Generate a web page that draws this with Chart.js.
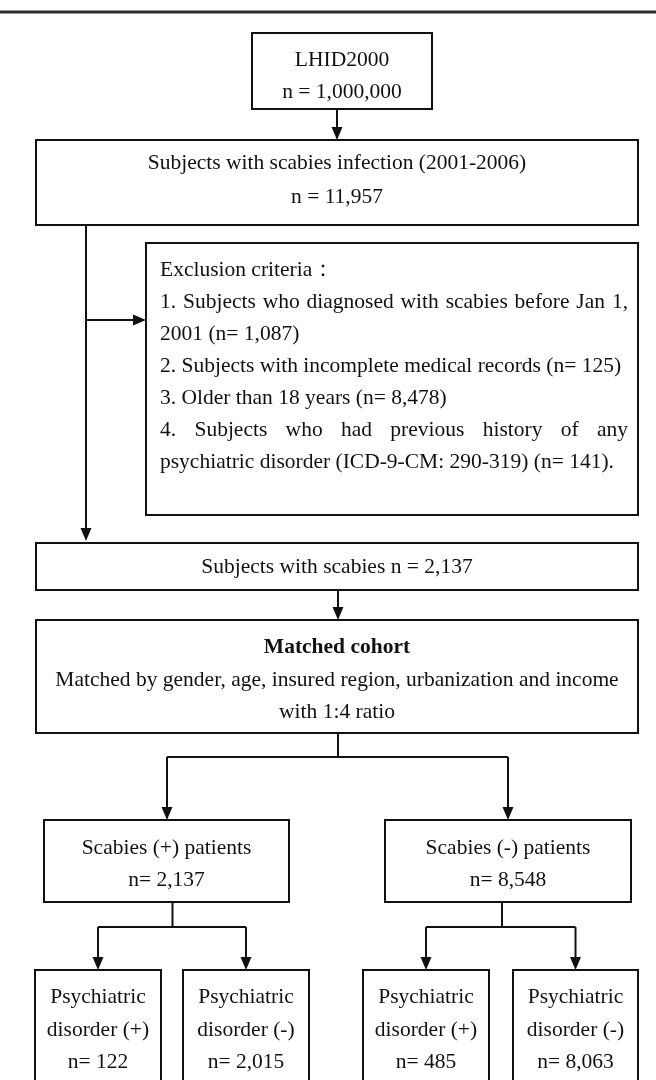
<!DOCTYPE html>
<html>
<head>
<meta charset="utf-8">
<script src="https://cdn.jsdelivr.net/npm/chart.js@4/dist/chart.umd.min.js"></script>
<style>
  html, body { margin: 0; padding: 0; background: #fff; }
  #wrap { width: 656px; height: 1080px; }
</style>
</head>
<body>
<div id="wrap"><canvas id="flow"></canvas></div>
<script>
// values
var stageLabels = ['LHID2000', 'Subjects with scabies infection (2001-2006)', 'Subjects with scabies', 'Scabies (+) patients', 'Scabies (-) patients']
var stageCounts = [1000000, 11957, 2137, 2137, 8548]
var exclusionTitle = 'Exclusion criteria\uFF1A'
var exclusionLabels = [
  'Subjects who diagnosed with scabies before Jan 1, 2001',
  'Subjects with incomplete medical records',
  'Older than 18 years',
  'Subjects who had previous history of any psychiatric disorder (ICD-9-CM: 290-319)'
]
var exclusionCounts = [1087, 125, 8478, 141]
var cohortTitle = 'Matched cohort'
var cohortText = 'Matched by gender, age, insured region, urbanization and income with 1:4 ratio'
var outcomeLabels = ['Psychiatric disorder (+)', 'Psychiatric disorder (-)', 'Psychiatric disorder (+)', 'Psychiatric disorder (-)']
var outcomeCounts = [122, 2015, 485, 8063]

// page layout in figure units (x 0-656, y 0-1080 from top)
var boxes = {
  lhid:    {x0: 252, x1: 432, y0: 33,  y1: 109, rows: [60, 92]},
  infect:  {x0: 36,  x1: 638, y0: 140, y1: 225, rows: [163, 197]},
  excl:    {x0: 146, x1: 638, y0: 243, y1: 515, top: 270, step: 32, left: 160, width: 468},
  scab:    {x0: 36,  x1: 638, y0: 543, y1: 590, rows: [567]},
  cohort:  {x0: 36,  x1: 638, y0: 620, y1: 733, rows: [647, 680, 712]},
  pos:     {x0: 44,  x1: 289, y0: 820, y1: 902, rows: [848, 880]},
  neg:     {x0: 385, x1: 631, y0: 820, y1: 902, rows: [848, 880]}
}
var leafBoxes = [[35, 161], [183, 309], [363, 489], [513, 638]]
var leafTop = 970, leafRows = [997, 1030, 1062]
var FONT = '21.5px "Liberation Serif", "Times New Roman", serif'
var BOLD = 'bold 21.5px "Liberation Serif", "Times New Roman", serif'
var INK = '#111'

function fmt(n) { return n.toLocaleString('en-US') }

function wrap(ctx, text, maxW) {
  var words = text.split(' '), lines = [], cur = ''
  words.forEach(function(w) {
    var test = cur ? cur + ' ' + w : w
    if (cur && ctx.measureText(test).width > maxW) { lines.push(cur); cur = w }
    else cur = test
  })
  if (cur) lines.push(cur)
  return lines
}

var flowPlugin = {
  id: 'flow',
  afterDatasetsDraw: function(chart) {
    var ctx = chart.ctx, xs = chart.scales.x, ys = chart.scales.y
    var px = function(v) { return xs.getPixelForValue(v) }
    var py = function(v) { return ys.getPixelForValue(v) }

    ctx.save()
    ctx.strokeStyle = INK
    ctx.fillStyle = INK
    ctx.lineWidth = 2

    function rect(b) {
      ctx.strokeRect(px(b.x0), py(b.y0), px(b.x1) - px(b.x0), py(b.y1) - py(b.y0))
    }
    function line(x1, y1, x2, y2) {
      ctx.beginPath(); ctx.moveTo(px(x1), py(y1)); ctx.lineTo(px(x2), py(y2)); ctx.stroke()
    }
    function arrow(x1, y1, x2, y2) {
      var ax = px(x2), ay = py(y2)
      var ang = Math.atan2(ay - py(y1), ax - px(x1))
      var len = 13, hw = 5.5
      var bx = ax - len * Math.cos(ang), by = ay - len * Math.sin(ang)
      ctx.beginPath(); ctx.moveTo(px(x1), py(y1)); ctx.lineTo(bx, by); ctx.stroke()
      ctx.beginPath()
      ctx.moveTo(ax, ay)
      ctx.lineTo(bx + hw * Math.sin(ang), by - hw * Math.cos(ang))
      ctx.lineTo(bx - hw * Math.sin(ang), by + hw * Math.cos(ang))
      ctx.closePath(); ctx.fill()
    }
    function centred(texts, b, rows, fonts) {
      ctx.textAlign = 'center'
      ctx.textBaseline = 'middle'
      var cx = px((b.x0 + b.x1) / 2)
      texts.forEach(function(t, i) {
        ctx.font = (fonts && fonts[i]) || FONT
        ctx.fillText(t, cx, py(rows[i]))
      })
    }

    // rule at the top of the page
    ctx.save()
    ctx.lineWidth = 3
    ctx.strokeStyle = '#2b2b2b'
    line(0, 12, 656, 12)
    ctx.restore()

    // main column
    rect(boxes.lhid)
    centred([stageLabels[0], 'n = ' + fmt(stageCounts[0])], boxes.lhid, boxes.lhid.rows)
    arrow(337, boxes.lhid.y1, 337, boxes.infect.y0)

    rect(boxes.infect)
    centred([stageLabels[1], 'n = ' + fmt(stageCounts[1])], boxes.infect, boxes.infect.rows)

    arrow(86, boxes.infect.y1, 86, boxes.scab.y0 - 2)
    arrow(86, 320, boxes.excl.x0, 320)

    // exclusion box, justified paragraphs
    var e = boxes.excl
    rect(e)
    ctx.font = FONT
    ctx.textAlign = 'left'
    ctx.textBaseline = 'middle'
    var rows = [{text: exclusionTitle, just: false}]
    exclusionLabels.forEach(function(lab, i) {
      var para = (i + 1) + '. ' + lab + ' (n= ' + fmt(exclusionCounts[i]) + ')' + (i === exclusionLabels.length - 1 ? '.' : '')
      var ls = wrap(ctx, para, e.width)
      ls.forEach(function(l, j) { rows.push({text: l, just: j < ls.length - 1}) })
    })
    rows.forEach(function(r, i) {
      var y = py(e.top + i * e.step)
      if (!r.just) { ctx.fillText(r.text, px(e.left), y); return }
      var words = r.text.split(' ')
      var total = words.reduce(function(s, w) { return s + ctx.measureText(w).width }, 0)
      var gap = (px(e.left + e.width) - px(e.left) - total) / (words.length - 1)
      var x = px(e.left)
      words.forEach(function(w) { ctx.fillText(w, x, y); x += ctx.measureText(w).width + gap })
    })

    rect(boxes.scab)
    centred([stageLabels[2] + ' n = ' + fmt(stageCounts[2])], boxes.scab, boxes.scab.rows)
    arrow(338, boxes.scab.y1, 338, boxes.cohort.y0)

    rect(boxes.cohort)
    ctx.font = FONT
    var cl = wrap(ctx, cohortText, 580)
    centred([cohortTitle].concat(cl), boxes.cohort, boxes.cohort.rows, [BOLD])

    // split into the two arms
    line(338, boxes.cohort.y1, 338, 757)
    line(167, 757, 508, 757)
    arrow(167, 757, 167, boxes.pos.y0)
    arrow(508, 757, 508, boxes.neg.y0)

    rect(boxes.pos)
    centred([stageLabels[3], 'n= ' + fmt(stageCounts[3])], boxes.pos, boxes.pos.rows)
    rect(boxes.neg)
    centred([stageLabels[4], 'n= ' + fmt(stageCounts[4])], boxes.neg, boxes.neg.rows)

    // outcome split
    ;[[boxes.pos, 0], [boxes.neg, 2]].forEach(function(p) {
      var b = p[0], k = p[1]
      var stem = (b.x0 + b.x1) / 2 + (k === 0 ? 6 : -6)
      var l = leafBoxes[k], r = leafBoxes[k + 1]
      var lc = (l[0] + l[1]) / 2, rc = (r[0] + r[1]) / 2
      line(stem, b.y1, stem, 927)
      line(lc, 927, rc, 927)
      arrow(lc, 927, lc, leafTop)
      arrow(rc, 927, rc, leafTop)
    })

    leafBoxes.forEach(function(lb, i) {
      var b = {x0: lb[0], x1: lb[1], y0: leafTop, y1: 1090}
      rect(b)
      var parts = outcomeLabels[i].split(' ')
      centred([parts[0], parts.slice(1).join(' '), 'n= ' + fmt(outcomeCounts[i])], b, leafRows)
    })

    ctx.restore()
  }
}

new Chart(document.getElementById('flow'), {
  type: 'scatter',
  data: { datasets: [{ data: [], pointRadius: 0 }] },
  options: {
    responsive: true,
    maintainAspectRatio: false,
    animation: false,
    layout: { padding: 0 },
    plugins: { legend: { display: false }, tooltip: { enabled: false } },
    scales: {
      x: { type: 'linear', min: 0, max: 656, display: false },
      y: { type: 'linear', min: 0, max: 1080, reverse: true, display: false }
    }
  },
  plugins: [flowPlugin]
})
</script>
</body>
</html>
